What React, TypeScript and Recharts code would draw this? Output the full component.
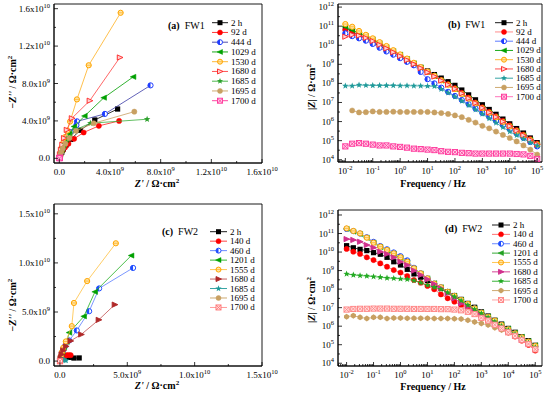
import React from "react";
import { ScatterChart, Scatter, XAxis, YAxis, ReferenceArea, Legend } from "recharts";

const FONT = "'Liberation Serif', 'Times New Roman', Times, serif";

// ---------- frequencies (Hz), 4 points per decade ----------
const freqHz = [0.01, 0.0178, 0.0316, 0.0562, 0.1, 0.178, 0.316, 0.562, 1, 1.78, 3.16, 5.62, 10, 17.8, 31.6, 56.2, 100, 178, 316, 562, 1000, 1780, 3160, 5620, 10000, 17800, 31600, 56200, 100000];

// ---------- (b) FW1 |Z| (ohm cm2) ----------
const fw1Z_2h = [7.9e10, 5.2e10, 3.4e10, 2.2e10, 1.4e10, 9.1e9, 6.0e9, 3.9e9, 2.5e9, 1.6e9, 1.07e9, 6.9e8, 4.5e8, 2.9e8, 1.9e8, 1.23e8, 7.9e7, 4.5e7, 2.5e7, 1.38e7, 7.6e6, 4.3e6, 2.4e6, 1.35e6, 7.6e5, 4.3e5, 2.5e5, 1.38e5, 7.9e4];
const fw1Z_92 = [6.3e10, 4.5e10, 3.2e10, 2.2e10, 1.6e10, 1.0e10, 6.8e9, 4.4e9, 2.8e9, 1.7e9, 1.07e9, 6.5e8, 4.0e8, 2.5e8, 1.5e8, 9.1e7, 5.6e7, 3.2e7, 1.8e7, 1.0e7, 5.6e6, 3.2e6, 1.9e6, 1.1e6, 6.3e5, 3.6e5, 2.1e5, 1.2e5, 7.1e4];
const fw1Z_444 = [4.2e10, 3.0e10, 2.3e10, 1.74e10, 1.17e10, 7.4e9, 4.7e9, 3.2e9, 2.1e9, 1.35e9, 8.9e8, 4.0e8, 1.66e8, 1.0e8, 6.0e7, 3.6e7, 2.2e7, 1.35e7, 8.1e6, 4.8e6, 2.8e6, 1.74e6, 1.07e6, 6.5e5, 4.0e5, 2.4e5, 1.41e5, 8.5e4, 5.0e4];
const fw1Z_1029 = [9.3e10, 6.3e10, 4.3e10, 3.0e10, 2.0e10, 1.26e10, 7.9e9, 5.0e9, 3.2e9, 1.9e9, 1.12e9, 6.8e8, 4.0e8, 2.4e8, 1.4e8, 8.5e7, 5.0e7, 2.8e7, 1.6e7, 8.9e6, 5.0e6, 2.9e6, 1.7e6, 9.8e5, 5.6e5, 3.2e5, 1.9e5, 1.1e5, 6.3e4];
const fw1Z_1530 = [1.29e11, 9.3e10, 5.6e10, 3.5e10, 2.3e10, 1.45e10, 9.1e9, 5.5e9, 3.3e9, 2.0e9, 1.2e9, 7.1e8, 4.2e8, 2.5e8, 1.45e8, 8.5e7, 5.0e7, 2.8e7, 1.6e7, 8.9e6, 5.0e6, 2.9e6, 1.66e6, 9.5e5, 5.5e5, 3.2e5, 1.86e5, 1.07e5, 6.3e4];
const fw1Z_1680 = [2.8e10, 3.5e10, 3.2e10, 2.4e10, 1.66e10, 1.05e10, 6.8e9, 4.3e9, 2.7e9, 1.66e9, 1.02e9, 6.3e8, 3.8e8, 2.3e8, 1.4e8, 8.5e7, 5.2e7, 3.0e7, 1.66e7, 9.3e6, 5.2e6, 3.0e6, 1.74e6, 1.0e6, 5.8e5, 3.3e5, 1.9e5, 1.1e5, 6.3e4];
const fw1Z_1685 = [7.4e7, 7.4e7, 8.3e7, 7.9e7, 7.8e7, 7.8e7, 7.8e7, 7.8e7, 7.6e7, 7.6e7, 7.4e7, 7.4e7, 7.2e7, 7.1e7, 5.0e7, 3.2e7, 2.0e7, 1.2e7, 7.1e6, 4.2e6, 2.5e6, 1.45e6, 8.5e5, 5.0e5, 2.95e5, 1.9e5, 1.23e5, 7.9e4, 5.4e4];
const fw1Z_1695 = [null, 3.8e6, 3.0e6, 3.1e6, 3.4e6, 3.2e6, 3.2e6, 3.3e6, 3.2e6, 3.2e6, 3.2e6, 3.2e6, 3.2e6, 3.0e6, 2.8e6, 2.5e6, 2.1e6, 1.7e6, 1.23e6, 8.9e5, 6.0e5, 4.4e5, 3.0e5, 2.0e5, 1.38e5, 9.1e4, 5.6e4, 3.4e4, 1.86e4];
const fw1Z_1700 = [5.0e4, 6.9e4, 7.4e4, 6.9e4, 6.2e4, 5.6e4, 5.6e4, 5.0e4, 4.7e4, 4.3e4, 3.8e4, 3.6e4, 3.4e4, 3.2e4, 2.8e4, 2.6e4, 2.5e4, 2.3e4, 2.2e4, 2.1e4, 2.1e4, 2.1e4, 2.1e4, 2.1e4, 2.1e4, 2.0e4, 1.9e4, 1.6e4, 1.1e4];

// ---------- (d) FW2 |Z| (ohm cm2) ----------
const fw2Z_2h = [2.2e10, 1.7e10, 1.4e10, 1.2e10, 9.3e9, 7.6e9, 5.2e9, 3.0e9, 2.0e9, 1.17e9, 6.6e8, 4.4e8, 2.9e8, 1.66e8, 1.1e8, 7.2e7, 4.5e7, 2.8e7, 1.7e7, 1.05e7, 6.0e6, 3.55e6, 2.1e6, 1.3e6, 7.6e5, 4.7e5, 2.7e5, 1.66e5, 9.3e4];
const fw2Z_140 = [1.48e10, 1.05e10, 7.9e9, 5.2e9, 3.7e9, 2.45e9, 1.62e9, 1.07e9, 7.8e8, 5.1e8, 3.1e8, 2.2e8, 1.48e8, 9.8e7, 5.2e7, 3.2e7, 2.1e7, 1.38e7, 9.1e6, 5.4e6, 3.2e6, 2.0e6, 1.15e6, 7.1e5, 4.5e5, 2.75e5, 1.66e5, 9.8e4, 4.8e4];
const fw2Z_460 = [1.78e11, 1.35e11, 1.0e11, 6.3e10, 3.55e10, 2.1e10, 1.41e10, 9.5e9, 6.0e9, 3.55e9, 1.41e9, 7.2e8, 3.8e8, 2.0e8, 1.26e8, 7.2e7, 4.3e7, 2.6e7, 1.55e7, 9.1e6, 5.4e6, 3.2e6, 1.95e6, 1.15e6, 6.8e5, 4.1e5, 2.45e5, 1.45e5, 8.3e4];
const fw2Z_1201 = [1.78e11, 1.26e11, 9.3e10, 5.8e10, 3.2e10, 1.86e10, 1.2e10, 7.9e9, 4.8e9, 2.8e9, 1.26e9, 6.9e8, 3.8e8, 2.1e8, 1.26e8, 7.4e7, 4.4e7, 2.6e7, 1.58e7, 9.3e6, 5.6e6, 3.4e6, 2.0e6, 1.23e6, 7.4e5, 4.5e5, 2.7e5, 1.58e5, 9.3e4];
const fw2Z_1555 = [1.9e11, 1.38e11, 1.02e11, 6.0e10, 3.2e10, 1.95e10, 1.29e10, 8.5e9, 5.2e9, 3.0e9, 1.32e9, 7.1e8, 3.8e8, 2.0e8, 1.26e8, 7.2e7, 4.3e7, 2.6e7, 1.58e7, 9.1e6, 5.4e6, 3.2e6, 2.0e6, 1.15e6, 6.8e5, 4.1e5, 2.5e5, 1.48e5, 8.5e4];
const fw2Z_1680 = [5.0e10, 4.5e10, 3.6e10, 2.4e10, 1.74e10, 1.05e10, 7.9e9, 5.2e9, 3.0e9, 2.0e9, 1.0e9, 5.8e8, 3.4e8, 1.9e8, 1.1e8, 5.9e7, 3.2e7, 1.7e7, 1.12e7, 6.6e6, 4.0e6, 2.45e6, 1.41e6, 8.7e5, 5.1e5, 3.0e5, 1.82e5, 1.1e5, 5.6e4];
const fw2Z_1685 = [6.6e8, 5.8e8, 5.4e8, 5.1e8, 4.7e8, 4.4e8, 4.0e8, 3.8e8, 3.6e8, 3.4e8, 2.9e8, 2.2e8, 1.66e8, 1.26e8, 9.8e7, 6.5e7, 3.9e7, 2.4e7, 1.38e7, 8.1e6, 4.9e6, 3.0e6, 1.74e6, 1.02e6, 6.2e5, 3.8e5, 2.2e5, 1.29e5, 7.2e4];
const fw2Z_1695 = [3.2e6, 3.7e6, 3.0e6, 2.6e6, 3.0e6, 3.0e6, 2.6e6, 2.75e6, 2.75e6, 2.7e6, 2.7e6, 2.7e6, 2.7e6, 2.6e6, 2.6e6, 2.6e6, 2.5e6, 2.45e6, 2.1e6, 1.7e6, 1.41e6, 1.15e6, 8.3e5, 6.2e5, 4.5e5, 3.0e5, 1.82e5, 1.1e5, 5.6e4];
const fw2Z_1700 = [7.9e6, 8.5e6, 8.7e6, 8.7e6, 8.9e6, 8.9e6, 8.9e6, 8.7e6, 8.7e6, 8.7e6, 8.5e6, 8.5e6, 8.5e6, 8.5e6, 8.3e6, 8.3e6, 7.9e6, 7.2e6, 6.0e6, 4.5e6, 2.8e6, 2.0e6, 1.2e6, 7.6e5, 4.7e5, 3.0e5, 1.82e5, 1.1e5, 5.6e4];

// ---------- (a) FW1 Nyquist: Z' and -Z'' (ohm cm2), low frequency first ----------
const fw1Re_2h = [4.6e9, 2.8e9, 1.65e9, 0.9e9, 0.53e9, 0.32e9, 0.19e9, 0.08e9];
const fw1Im_2h = [5.27e9, 4.1e9, 3.0e9, 2.02e9, 1.42e9, 0.99e9, 0.64e9, 0.28e9];
const fw1Re_92 = [4.72e9, 3.12e9, 1.92e9, 1.17e9, 0.72e9, 0.45e9, 0.27e9, 0.13e9, 0.05e9];
const fw1Im_92 = [4.0e9, 3.47e9, 2.76e9, 2.09e9, 1.56e9, 1.17e9, 0.81e9, 0.46e9, 0.21e9];
const fw1Re_444 = [7.2e9, 3.6e9, 1.4e9, 1.35e9, 0.9e9, 0.6e9, 0.4e9, 0.25e9, 0.13e9, 0.05e9];
const fw1Im_444 = [7.8e9, 4.75e9, 3.95e9, 3.55e9, 2.8e9, 2.1e9, 1.5e9, 1.0e9, 0.6e9, 0.25e9];
const fw1Re_1029 = [5.84e9, 3.52e9, 2.0e9, 1.17e9, 0.8e9, 0.53e9, 0.32e9, 0.19e9, 0.08e9];
const fw1Im_1029 = [8.71e9, 6.48e9, 4.53e9, 3.4e9, 2.62e9, 1.98e9, 1.35e9, 0.85e9, 0.39e9];
const fw1Re_1530 = [4.84e9, 2.32e9, 1.39e9, 0.85e9, 0.64e9, 0.45e9, 0.32e9, 0.21e9, 0.13e9, 0.05e9];
const fw1Im_1530 = [15.56e9, 9.95e9, 6.3e9, 3.93e9, 2.97e9, 2.27e9, 1.7e9, 1.2e9, 0.74e9, 0.32e9];
const fw1Re_1680 = [4.78e9, 2.4e9, 0.99e9, 0.59e9, 0.37e9, 0.24e9, 0.13e9, 0.05e9];
const fw1Im_1680 = [10.78e9, 6.16e9, 4.28e9, 3.04e9, 2.16e9, 1.45e9, 0.92e9, 0.42e9];
const fw1Re_1685 = [6.93e9, 2.45e9, 1.25e9, 0.72e9, 0.43e9, 0.24e9, 0.11e9, 0.05e9];
const fw1Im_1685 = [4.18e9, 3.75e9, 3.04e9, 2.23e9, 1.52e9, 1.03e9, 0.57e9, 0.21e9];
const fw1Re_1695 = [5.92e9, 2.72e9, 1.33e9, 0.8e9, 0.48e9, 0.27e9, 0.13e9, 0.05e9];
const fw1Im_1695 = [4.99e9, 3.75e9, 2.94e9, 2.16e9, 1.56e9, 1.06e9, 0.64e9, 0.28e9];
const fw1Re_1700 = [0.04e9, 0.03e9, 0.02e9, 0.01e9];
const fw1Im_1700 = [0.06e9, 0.05e9, 0.03e9, 0.01e9];

// ---------- (c) FW2 Nyquist ----------
const fw2Re_2h = [1.43e9, 1.04e9, 0.7e9, 0.5e9, 0.35e9, 0.22e9, 0.12e9, 0.05e9, 0.02e9];
const fw2Im_2h = [0.32e9, 0.31e9, 0.38e9, 0.45e9, 0.42e9, 0.38e9, 0.3e9, 0.18e9, 0.08e9];
const fw2Re_140 = [0.8e9, 0.65e9, 0.5e9, 0.38e9, 0.27e9, 0.18e9, 0.1e9, 0.05e9];
const fw2Im_140 = [0.6e9, 0.62e9, 0.6e9, 0.55e9, 0.48e9, 0.38e9, 0.25e9, 0.12e9];
const fw2Re_460 = [5.43e9, 2.91e9, 2.17e9, 1.25e9, 0.69e9, 0.37e9, 0.2e9, 0.1e9, 0.04e9];
const fw2Im_460 = [9.49e9, 7.4e9, 5.08e9, 3.12e9, 2.1e9, 1.49e9, 1.0e9, 0.55e9, 0.22e9];
const fw2Re_1201 = [5.3e9, 2.6e9, 1.78e9, 0.69e9, 0.5e9, 0.3e9, 0.18e9, 0.08e9, 0.03e9];
const fw2Im_1201 = [10.75e9, 7.05e9, 4.56e9, 2.9e9, 1.95e9, 1.4e9, 0.9e9, 0.45e9, 0.2e9];
const fw2Re_1555 = [4.15e9, 2.02e9, 1.04e9, 0.88e9, 0.44e9, 0.25e9, 0.15e9, 0.07e9, 0.03e9];
const fw2Im_1555 = [12.0e9, 8.15e9, 5.92e9, 3.56e9, 2.0e9, 1.36e9, 0.92e9, 0.5e9, 0.2e9];
const fw2Re_1680 = [4.07e9, 2.88e9, 1.58e9, 0.79e9, 0.45e9, 0.25e9, 0.12e9, 0.05e9];
const fw2Im_1680 = [5.75e9, 4.2e9, 2.71e9, 2.05e9, 1.5e9, 1.08e9, 0.68e9, 0.3e9];
const fw2Re_1685 = [0.45e9, 0.35e9, 0.25e9, 0.15e9, 0.08e9, 0.04e9];
const fw2Im_1685 = [0.05e9, 0.1e9, 0.12e9, 0.1e9, 0.07e9, 0.04e9];
const fw2Re_1695 = [0.003e9, 0.002e9, 0.001e9];
const fw2Im_1695 = [0.001e9, 0.0008e9, 0.0004e9];
const fw2Re_1700 = [0.008e9, 0.006e9, 0.003e9];
const fw2Im_1700 = [0.002e9, 0.003e9, 0.002e9];

// ---------- legend names ----------
const fw1Names = ["2 h", "92 d", "444 d", "1029 d", "1530 d", "1680 d", "1685 d", "1695 d", "1700 d"];
const fw2Names = ["2 h", "140 d", "460 d", "1201 d", "1555 d", "1680 d", "1685 d", "1695 d", "1700 d"];

// ---------- tick values ----------
const nyqA_major = [0, 4e9, 8e9, 1.2e10, 1.6e10];
const nyqA_minor = [2e9, 6e9, 1e10, 1.4e10];
const nyqC_major = [0, 5e9, 1e10, 1.5e10];
const nyqC_minor = [2.5e9, 7.5e9, 1.25e10];
const freqMajor = [0.01, 0.1, 1, 10, 100, 1000, 10000, 100000];
const zMajor = [1e4, 1e5, 1e6, 1e7, 1e8, 1e9, 1e10, 1e11, 1e12];

const logMinors = (majors: number[], lo: number, hi: number, steps: number[]) => {
  const out: number[] = [];
  const ext = [majors[0] / 10, ...majors];
  ext.forEach((m) => steps.forEach((s) => { const v = m * s; if (v > lo && v < hi) out.push(v); }));
  return out;
};

// ---------- styles ----------
type Kind = "square" | "circle" | "half" | "triL" | "triR" | "ocircle" | "star" | "xsq" | "diamond";
interface Sty { kind: Kind; color: string; line: string; fill?: string; }

const stylesA: Sty[] = [
  { kind: "square", color: "#000000", line: "#000000" },
  { kind: "circle", color: "#ff0000", line: "#ff2020" },
  { kind: "half", color: "#1f3dff", line: "#3b3ba6" },
  { kind: "triL", color: "#00a000", line: "#00a000" },
  { kind: "ocircle", color: "#ffa500", line: "#ffb020", fill: "#ffe6a8" },
  { kind: "triR", color: "#ff2020", line: "#ff4040", fill: "#ffd0d0" },
  { kind: "star", color: "#2ca02c", line: "#3cb03c" },
  { kind: "circle", color: "#c8a062", line: "#c8a062" },
  { kind: "xsq", color: "#ff3399", line: "#ff3399", fill: "#ffd0e8" },
];
const stylesB: Sty[] = [
  { kind: "square", color: "#000000", line: "#000000" },
  { kind: "circle", color: "#ff0000", line: "#ff8080" },
  { kind: "half", color: "#1f3dff", line: "#4a6bff" },
  { kind: "triL", color: "#00a000", line: "#00a000" },
  { kind: "ocircle", color: "#ffa500", line: "#ffb020", fill: "#ffe6a8" },
  { kind: "triR", color: "#ff2020", line: "#ff4040", fill: "#ffd0d0" },
  { kind: "star", color: "#1f9a9a", line: "#1f9a9a" },
  { kind: "circle", color: "#c8a062", line: "#c8a062" },
  { kind: "xsq", color: "#ff3399", line: "#ff66b2", fill: "#ffd0e8" },
];
const stylesC: Sty[] = [
  { kind: "square", color: "#000000", line: "#000000" },
  { kind: "circle", color: "#ff0000", line: "#ff3030" },
  { kind: "half", color: "#1f4dff", line: "#5a7dff" },
  { kind: "triL", color: "#00a000", line: "#20b020" },
  { kind: "ocircle", color: "#ffa500", line: "#ffc040", fill: "#ffe6a8" },
  { kind: "triR", color: "#b02828", line: "#c05050", fill: "#b02828" },
  { kind: "star", color: "#1f9a9a", line: "#1f9a9a" },
  { kind: "circle", color: "#c8a062", line: "#c8a062" },
  { kind: "xsq", color: "#ff7070", line: "#ff9090", fill: "#ffe0e0" },
];
const stylesD: Sty[] = [
  { kind: "square", color: "#000000", line: "#000000" },
  { kind: "circle", color: "#ff0000", line: "#ff6060" },
  { kind: "half", color: "#1f4dff", line: "#5a7dff" },
  { kind: "triL", color: "#20a020", line: "#20a020" },
  { kind: "ocircle", color: "#ffa500", line: "#ffc040", fill: "#ffe6a8" },
  { kind: "triR", color: "#d0308c", line: "#d0308c", fill: "#d0308c" },
  { kind: "star", color: "#22aa22", line: "#22aa22" },
  { kind: "diamond", color: "#c8a062", line: "#c8a062" },
  { kind: "xsq", color: "#ff8080", line: "#ff9a9a", fill: "#ffe0e0" },
];

function Marker({ s, cx, cy, r = 2.6 }: { s: Sty; cx: number; cy: number; r?: number }) {
  const c = s.color;
  switch (s.kind) {
    case "square":
      return <rect x={cx - r} y={cy - r} width={2 * r} height={2 * r} fill={c} />;
    case "circle":
      return <circle cx={cx} cy={cy} r={r} fill={c} stroke={c} strokeWidth={0.5} />;
    case "half":
      return (
        <g>
          <circle cx={cx} cy={cy} r={r} fill="#ffffff" stroke={c} strokeWidth={1} />
          <path d={`M${cx},${cy - r} A${r},${r} 0 0 0 ${cx},${cy + r} Z`} fill={c} />
        </g>
      );
    case "ocircle":
      return (
        <g>
          <circle cx={cx} cy={cy} r={r} fill={s.fill} stroke={c} strokeWidth={1} />
          <line x1={cx - r} x2={cx + r} y1={cy} y2={cy} stroke={c} strokeWidth={0.6} />
        </g>
      );
    case "triL":
      return <polygon points={`${cx - r - 0.5},${cy} ${cx + r},${cy - r} ${cx + r},${cy + r}`} fill={c} stroke={c} strokeWidth={0.5} />;
    case "triR":
      return <polygon points={`${cx + r + 0.5},${cy} ${cx - r},${cy - r} ${cx - r},${cy + r}`} fill={s.fill || c} stroke={c} strokeWidth={0.9} />;
    case "star": {
      const pts: string[] = [];
      for (let i = 0; i < 10; i++) {
        const a = (-90 + i * 36) * (Math.PI / 180);
        const rr = i % 2 === 0 ? r * 1.3 : r * 0.55;
        pts.push(`${cx + rr * Math.cos(a)},${cy + rr * Math.sin(a)}`);
      }
      return <polygon points={pts.join(" ")} fill={c} />;
    }
    case "xsq":
      return (
        <g>
          <rect x={cx - r} y={cy - r} width={2 * r} height={2 * r} fill={s.fill} stroke={c} strokeWidth={0.9} />
          <line x1={cx - r} y1={cy - r} x2={cx + r} y2={cy + r} stroke={c} strokeWidth={0.8} />
          <line x1={cx - r} y1={cy + r} x2={cx + r} y2={cy - r} stroke={c} strokeWidth={0.8} />
        </g>
      );
    case "diamond":
      return <polygon points={`${cx},${cy - r - 0.4} ${cx + r},${cy - r / 2} ${cx + r},${cy + r / 2} ${cx},${cy + r + 0.4} ${cx - r},${cy + r / 2} ${cx - r},${cy - r / 2}`} fill={c} />;
  }
  return null;
}

const pts = (xs: (number | null)[], ys: (number | null)[]) =>
  xs.map((x, i) => ({ x, y: ys[i] })).filter((p) => p.x != null && p.y != null);

const isMajorVal = (majors: number[], v: number) => majors.some((m) => Math.abs(m - v) <= Math.abs(m) * 1e-6);

function labelParts(v: number, log: boolean): [string, string | null] {
  if (log) return ["10", String(Math.round(Math.log10(v)))];
  if (v === 0) return ["0.0", null];
  const e = Math.floor(Math.log10(Math.abs(v)) + 1e-9);
  return [(v / Math.pow(10, e)).toFixed(1) + "x10", String(e)];
}

const makeXTick = (majors: number[], log: boolean) => (props: any) => {
  const { x, y, payload } = props;
  const v = payload.value as number;
  const major = isMajorVal(majors, v);
  const [b, e] = labelParts(v, log);
  return (
    <g>
      <line x1={x} x2={x} y1={y} y2={y - (major ? 4 : 2)} stroke="#000" strokeWidth={0.8} />
      {major && (
        <text x={x} y={y + 12} textAnchor="middle" fontFamily={FONT} fontSize={9} fill="#000">
          {b}
          {e && <tspan dy={-4} fontSize={6.5}>{e}</tspan>}
        </text>
      )}
    </g>
  );
};

const makeYTick = (majors: number[], log: boolean) => (props: any) => {
  const { x, y, payload } = props;
  const v = payload.value as number;
  const major = isMajorVal(majors, v);
  const [b, e] = labelParts(v, log);
  return (
    <g>
      <line x1={x} x2={x + (major ? 4 : 2)} y1={y} y2={y} stroke="#000" strokeWidth={0.8} />
      {major && (
        <text x={x - 4} y={y + 3} textAnchor="end" fontFamily={FONT} fontSize={9} fill="#000">
          {b}
          {e && <tspan dy={-4} fontSize={6.5}>{e}</tspan>}
        </text>
      )}
    </g>
  );
};

interface PanelCfg {
  left: number; top: number; w: number; h: number;
  margin: { top: number; right: number; bottom: number; left: number };
  yw: number; xh: number; log: boolean;
  xDomain: [number, number]; yDomain: [number, number];
  xMajor: number[]; xMinor: number[]; yMajor: number[]; yMinor: number[];
  series: { name: string; data: { x: any; y: any }[]; s: Sty }[];
  tag: string; sample: string; tagX: number; tagY: number;
  legX1: number; legX2: number; legTX: number; legY0: number; legDY: number;
  xTitle: "nyq" | "freq"; xTX: number; xTY: number;
  yTitle: "nyq" | "mod"; yTX: number; yTY: number;
}

function Overlay({ cfg }: { cfg: PanelCfg }) {
  const yTitle =
    cfg.yTitle === "nyq" ? (
      <text transform={`translate(${cfg.yTX},${cfg.yTY}) rotate(-90)`} textAnchor="middle" fontFamily={FONT} fontSize={10} fontWeight="bold" fill="#000">
        −<tspan fontStyle="italic">Z''</tspan> / Ω·cm<tspan dy={-4} fontSize={7}>2</tspan>
      </text>
    ) : (
      <text transform={`translate(${cfg.yTX},${cfg.yTY}) rotate(-90)`} textAnchor="middle" fontFamily={FONT} fontSize={10} fontWeight="bold" fill="#000">
        |<tspan fontStyle="italic">Z</tspan>| / Ω·cm<tspan dy={-4} fontSize={7}>2</tspan>
      </text>
    );
  const xTitle =
    cfg.xTitle === "nyq" ? (
      <text x={cfg.xTX} y={cfg.xTY} textAnchor="middle" fontFamily={FONT} fontSize={10} fontWeight="bold" fill="#000">
        <tspan fontStyle="italic">Z'</tspan> / Ω·cm<tspan dy={-4} fontSize={7}>2</tspan>
      </text>
    ) : (
      <text x={cfg.xTX} y={cfg.xTY} textAnchor="middle" fontFamily={FONT} fontSize={10} fontWeight="bold" fill="#000">
        Frequency / Hz
      </text>
    );
  return (
    <svg width={cfg.w} height={cfg.h} style={{ display: "block", overflow: "visible" }}>
      {yTitle}
      {xTitle}
      <text x={cfg.tagX} y={cfg.tagY} fontFamily={FONT} fontSize={10} fill="#000">
        <tspan fontWeight="bold">{cfg.tag}</tspan>
        <tspan dx={5}>{cfg.sample}</tspan>
      </text>
      {cfg.series.map((sr, i) => {
        const yy = cfg.legY0 + i * cfg.legDY;
        return (
          <g key={sr.name}>
            <line x1={cfg.legX1} x2={cfg.legX2} y1={yy} y2={yy} stroke={sr.s.line} strokeWidth={0.9} />
            <Marker s={sr.s} cx={(cfg.legX1 + cfg.legX2) / 2} cy={yy} r={2.5} />
            <text x={cfg.legTX} y={yy + 3} fontFamily={FONT} fontSize={9} fill="#000">{sr.name}</text>
          </g>
        );
      })}
    </svg>
  );
}

function Panel({ cfg }: { cfg: PanelCfg }) {
  const xTicks = [...cfg.xMajor, ...cfg.xMinor].sort((a, b) => a - b);
  const yTicks = [...cfg.yMajor, ...cfg.yMinor].sort((a, b) => a - b);
  return (
    <div style={{ position: "absolute", left: cfg.left, top: cfg.top, width: cfg.w, height: cfg.h }}>
      <ScatterChart width={cfg.w} height={cfg.h} margin={cfg.margin}>
        <XAxis
          type="number" dataKey="x" scale={cfg.log ? "log" : "linear"} domain={cfg.xDomain} allowDataOverflow
          ticks={xTicks} interval={0} tickSize={0} tickMargin={0} tickLine={false}
          axisLine={{ stroke: "#000", strokeWidth: 0.9 }} height={cfg.xh} tick={makeXTick(cfg.xMajor, cfg.log)}
        />
        <YAxis
          type="number" dataKey="y" scale={cfg.log ? "log" : "linear"} domain={cfg.yDomain} allowDataOverflow
          ticks={yTicks} interval={0} tickSize={0} tickMargin={0} tickLine={false}
          axisLine={{ stroke: "#000", strokeWidth: 0.9 }} width={cfg.yw} tick={makeYTick(cfg.yMajor, cfg.log)}
        />
        <ReferenceArea x1={cfg.xDomain[0]} x2={cfg.xDomain[1]} y1={cfg.yDomain[0]} y2={cfg.yDomain[1]} fill="none" stroke="#000" strokeWidth={0.9} fillOpacity={0} />
        {cfg.series.map((sr) => (
          <Scatter
            key={sr.name}
            name={sr.name}
            data={sr.data}
            isAnimationActive={false}
            line={{ stroke: sr.s.line, strokeWidth: 0.8 }}
            lineType="joint"
            shape={(p: any) => <Marker s={sr.s} cx={p.cx} cy={p.cy} />}
          />
        ))}
        <Legend
          layout="vertical" align="center" verticalAlign="middle"
          wrapperStyle={{ left: 0, top: 0, width: cfg.w, height: cfg.h, pointerEvents: "none" }}
          content={() => <Overlay cfg={cfg} />}
        />
      </ScatterChart>
    </div>
  );
}

const fw1Nyq = [
  pts(fw1Re_2h, fw1Im_2h), pts(fw1Re_92, fw1Im_92), pts(fw1Re_444, fw1Im_444), pts(fw1Re_1029, fw1Im_1029),
  pts(fw1Re_1530, fw1Im_1530), pts(fw1Re_1680, fw1Im_1680), pts(fw1Re_1685, fw1Im_1685), pts(fw1Re_1695, fw1Im_1695), pts(fw1Re_1700, fw1Im_1700),
];
const fw2Nyq = [
  pts(fw2Re_2h, fw2Im_2h), pts(fw2Re_140, fw2Im_140), pts(fw2Re_460, fw2Im_460), pts(fw2Re_1201, fw2Im_1201),
  pts(fw2Re_1555, fw2Im_1555), pts(fw2Re_1680, fw2Im_1680), pts(fw2Re_1685, fw2Im_1685), pts(fw2Re_1695, fw2Im_1695), pts(fw2Re_1700, fw2Im_1700),
];
const fw1Bode = [fw1Z_2h, fw1Z_92, fw1Z_444, fw1Z_1029, fw1Z_1530, fw1Z_1680, fw1Z_1685, fw1Z_1695, fw1Z_1700].map((z) => pts(freqHz, z));
const fw2Bode = [fw2Z_2h, fw2Z_140, fw2Z_460, fw2Z_1201, fw2Z_1555, fw2Z_1680, fw2Z_1685, fw2Z_1695, fw2Z_1700].map((z) => pts(freqHz, z));

const bDom: [number, number] = [5.4e-3, 1.5e5];
const dDom: [number, number] = [4.8e-3, 1.78e5];
const fMinorSteps = [2, 3, 4, 5, 6, 7, 8, 9];

const cfgA: PanelCfg = {
  left: 0, top: 0, w: 292, h: 198, margin: { top: 4, right: 30, bottom: 0, left: 0 }, yw: 54, xh: 35, log: false,
  xDomain: [-4.2e8, 1.6e10], yDomain: [-5e8, 1.65e10],
  xMajor: nyqA_major, xMinor: nyqA_minor, yMajor: nyqA_major, yMinor: nyqA_minor,
  series: fw1Names.map((n, i) => ({ name: n, data: fw1Nyq[i], s: stylesA[i] })),
  tag: "(a)", sample: "FW1", tagX: 168, tagY: 28.5,
  legX1: 212, legX2: 228, legTX: 231, legY0: 22.7, legDY: 9.75,
  xTitle: "nyq", xTX: 157, xTY: 187, yTitle: "nyq", yTX: 15.5, yTY: 82,
};
const cfgB: PanelCfg = {
  left: 275, top: 0, w: 275, h: 198, margin: { top: 4, right: 8, bottom: 0, left: 0 }, yw: 63, xh: 36, log: true,
  xDomain: bDom, yDomain: [7.6e3, 1.45e12],
  xMajor: freqMajor, xMinor: logMinors(freqMajor, bDom[0], bDom[1], fMinorSteps), yMajor: zMajor, yMinor: logMinors(zMajor, 7.6e3, 1.45e12, [3.16]),
  series: fw1Names.map((n, i) => ({ name: n, data: fw1Bode[i], s: stylesB[i] })),
  tag: "(b)", sample: "FW1", tagX: 173, tagY: 27.5,
  legX1: 220, legX2: 238, legTX: 241, legY0: 22.7, legDY: 9.25,
  xTitle: "freq", xTX: 158, xTY: 187, yTitle: "mod", yTX: 39.5, yTY: 87,
};
const cfgC: PanelCfg = {
  left: 0, top: 200, w: 292, h: 199, margin: { top: 4, right: 30, bottom: 0, left: 0 }, yw: 54, xh: 33, log: false,
  xDomain: [-4.4e8, 1.5e10], yDomain: [-5e8, 1.6e10],
  xMajor: nyqC_major, xMinor: nyqC_minor, yMajor: nyqC_major, yMinor: nyqC_minor,
  series: fw2Names.map((n, i) => ({ name: n, data: fw2Nyq[i], s: stylesC[i] })),
  tag: "(c)", sample: "FW2", tagX: 162, tagY: 35,
  legX1: 210, legX2: 227, legTX: 230, legY0: 31.7, legDY: 9.47,
  xTitle: "nyq", xTX: 157, xTY: 189, yTitle: "nyq", yTX: 15.5, yTY: 105,
};
const cfgD: PanelCfg = {
  left: 275, top: 200, w: 275, h: 199, margin: { top: 10, right: 8, bottom: 0, left: 0 }, yw: 63, xh: 33, log: true,
  xDomain: dDom, yDomain: [7.1e3, 1.86e12],
  xMajor: freqMajor, xMinor: logMinors(freqMajor, dDom[0], dDom[1], fMinorSteps), yMajor: zMajor, yMinor: logMinors(zMajor, 7.1e3, 1.86e12, [3.16]),
  series: fw2Names.map((n, i) => ({ name: n, data: fw2Bode[i], s: stylesD[i] })),
  tag: "(d)", sample: "FW2", tagX: 170, tagY: 32,
  legX1: 217, legX2: 235, legTX: 238, legY0: 25, legDY: 9.37,
  xTitle: "freq", xTX: 158, xTY: 189.5, yTitle: "mod", yTX: 40, yTY: 100,
};

export default function App() {
  return (
    <div style={{ position: "absolute", left: 0, top: 0, width: 550, height: 399, background: "#ffffff", overflow: "hidden" }}>
      <Panel cfg={cfgA} />
      <Panel cfg={cfgC} />
      <Panel cfg={cfgB} />
      <Panel cfg={cfgD} />
    </div>
  );
}
